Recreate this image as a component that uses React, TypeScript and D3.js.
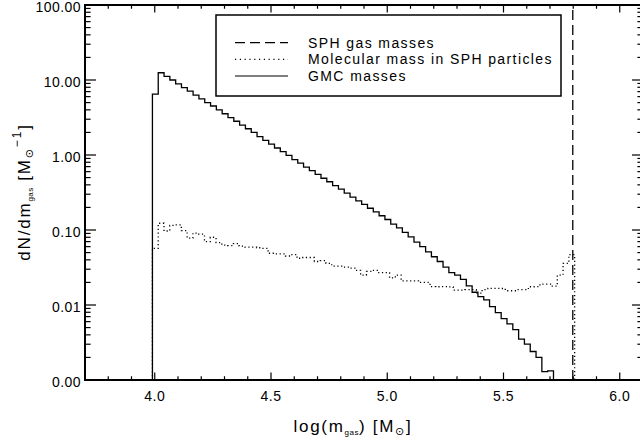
import React from 'react';
import * as d3 from 'd3';

const xDomain: [number, number] = [3.7, 6.1];
const yDomain: [number, number] = [0.001, 100];
const xMajorTicks = [4.0, 4.5, 5.0, 5.5, 6.0];
const xTickLabels = ['4.0', '4.5', '5.0', '5.5', '6.0'];
const yMajorTicks = [0.001, 0.01, 0.1, 1, 10, 100];
const yTickLabels = ['0.00', '0.01', '0.10', '1.00', '10.00', '100.00'];

// GMC mass histogram (bins of equal width from gmcStart to gmcEnd)
const gmcStart = 3.99;
const gmcEnd = 5.715;
const gmcValues = [
  6.5, 12.5, 11.2, 10.0, 8.9, 7.9, 7.1, 6.3, 5.6, 5.0,
  4.5, 4.0, 3.55, 3.15, 2.82, 2.5, 2.24, 2.0, 1.76, 1.57,
  1.40, 1.24, 1.11, 0.99, 0.87, 0.78, 0.69, 0.62, 0.55, 0.49,
  0.44, 0.39, 0.35, 0.31, 0.275, 0.245, 0.22, 0.195, 0.174, 0.155,
  0.138, 0.12, 0.107, 0.093, 0.081, 0.069, 0.060, 0.051, 0.044, 0.038,
  0.032, 0.027, 0.025, 0.022, 0.018, 0.0148, 0.0129, 0.0117, 0.0095, 0.0079,
  0.0066, 0.0056, 0.0047, 0.0035, 0.0030, 0.0024, 0.0020, 0.00129, 0.00132,
];

// Molecular mass in SPH particles
const molStart = 3.99;
const molEnd = 5.806;
const molValues = [
  0.057, 0.123, 0.097, 0.115, 0.117, 0.098, 0.078, 0.091, 0.088, 0.070,
  0.080, 0.068, 0.063, 0.062, 0.066, 0.061, 0.059, 0.059, 0.058, 0.057,
  0.049, 0.048, 0.048, 0.045, 0.047, 0.042, 0.043, 0.043, 0.038, 0.039,
  0.036, 0.033, 0.033, 0.032, 0.031, 0.029, 0.025, 0.028, 0.029, 0.027,
  0.027, 0.023, 0.025, 0.021, 0.021, 0.021, 0.020, 0.020, 0.0176, 0.0175,
  0.0176, 0.0174, 0.0158, 0.0158, 0.016, 0.016, 0.0144, 0.016, 0.0167, 0.0167,
  0.0166, 0.0155, 0.0155, 0.016, 0.016, 0.0175, 0.0176, 0.019, 0.019, 0.0178,
  0.025, 0.036, 0.047,
];

// SPH gas masses: all particles share one mass
const sphGasMass = 5.798;

const legendLabels = ['SPH gas masses', 'Molecular mass in SPH particles', 'GMC masses'];
const legendDash = ['10,5', '1.2,3.6', 'none'];

const FONT = "'Liberation Sans', Arial, 'DejaVu Sans', sans-serif";

function stepPoints(start: number, end: number, values: number[]): [number, number][] {
  const n = values.length;
  const w = (end - start) / n;
  const pts: [number, number][] = [[start, yDomain[0]]];
  values.forEach((v, i) => {
    pts.push([start + i * w, v]);
    pts.push([start + (i + 1) * w, v]);
  });
  pts.push([end, yDomain[0]]);
  return pts;
}

export default function App() {
  const W = 640, H = 444;
  const left = 85, right = 643, top = 5, bottom = 380;
  const x = d3.scaleLinear().domain(xDomain).range([left, right]);
  const y = d3.scaleLog().domain(yDomain).range([bottom, top]);
  const line = d3.line<[number, number]>().x(d => x(d[0])).y(d => y(d[1]));

  const xMinor = d3.range(38, 61).map(i => i / 10).filter(v => !xMajorTicks.some(m => Math.abs(m - v) < 1e-6));
  const yMinor: number[] = [];
  for (let k = -3; k <= 1; k++) for (let m = 2; m <= 9; m++) yMinor.push(m * Math.pow(10, k));

  const xMajLen = 7.5, xMinLen = 3.75, yMajLen = 11, yMinLen = 5.6;

  const legRows = [42.7, 59.3, 76];

  return (
    <svg width={W} height={H} style={{ position: 'absolute', left: 0, top: 0, background: '#fff' }} fontFamily={FONT}>
      <rect x={0} y={0} width={W} height={H} fill="#fff" />
      <defs>
        <clipPath id="plot">
          <rect x={left} y={top} width={right - left} height={bottom - top} />
        </clipPath>
      </defs>

      {/* data */}
      <g clipPath="url(#plot)" fill="none" stroke="#000">
        <path d={line([[sphGasMass, yDomain[0]], [sphGasMass, yDomain[1]]]) || ''} strokeWidth={1.3} strokeDasharray="10,5" />
        <path d={line(stepPoints(molStart, molEnd, molValues)) || ''} strokeWidth={1.3} strokeDasharray="1.2,2.6" />
        <path d={line(stepPoints(gmcStart, gmcEnd, gmcValues)) || ''} strokeWidth={1.3} />
      </g>

      {/* axes frame */}
      <g stroke="#000" fill="none">
        <line x1={left} x2={left} y1={top - 1} y2={bottom + 1} strokeWidth={2} />
        <line x1={right} x2={right} y1={top - 1} y2={bottom + 1} strokeWidth={2} />
        <line x1={left - 1} x2={right + 1} y1={bottom} y2={bottom} strokeWidth={2} />
        <line x1={left - 1} x2={right + 1} y1={top} y2={top} strokeWidth={2} />
        {xMajorTicks.map(t => (
          <g key={'xm' + t}>
            <line x1={x(t)} x2={x(t)} y1={bottom} y2={bottom - xMajLen} strokeWidth={1.2} />
            <line x1={x(t)} x2={x(t)} y1={top} y2={top + xMajLen} strokeWidth={1.2} />
          </g>
        ))}
        {xMinor.map(t => (
          <g key={'xn' + t}>
            <line x1={x(t)} x2={x(t)} y1={bottom} y2={bottom - xMinLen} strokeWidth={1.2} />
            <line x1={x(t)} x2={x(t)} y1={top} y2={top + xMinLen} strokeWidth={1.2} />
          </g>
        ))}
        {yMajorTicks.map(t => (
          <g key={'ym' + t}>
            <line x1={left} x2={left + yMajLen} y1={y(t)} y2={y(t)} strokeWidth={1.2} />
            <line x1={right} x2={right - yMajLen} y1={y(t)} y2={y(t)} strokeWidth={1.2} />
          </g>
        ))}
        {yMinor.map(t => (
          <g key={'yn' + t}>
            <line x1={left} x2={left + yMinLen} y1={y(t)} y2={y(t)} strokeWidth={1.2} />
            <line x1={right} x2={right - yMinLen} y1={y(t)} y2={y(t)} strokeWidth={1.2} />
          </g>
        ))}
      </g>

      {/* tick labels */}
      <g fontSize={14} fill="#000">
        {xMajorTicks.map((t, i) => (
          <text key={'xl' + t} x={x(t)} y={401} textAnchor="middle" letterSpacing={0.5}>{xTickLabels[i]}</text>
        ))}
        {yMajorTicks.map((t, i) => (
          <text key={'yl' + t} x={81} y={y(t) + 7} textAnchor="end" letterSpacing={0.45}>{yTickLabels[i]}</text>
        ))}
      </g>

      {/* axis titles */}
      <text x={353} y={432} textAnchor="middle" fontSize={17} letterSpacing={1.7} fill="#000">
        <tspan>log(m</tspan>
        <tspan fontSize={8} dy={3} letterSpacing={0.5}>gas</tspan>
        <tspan dy={-3}>)  [M</tspan>
        <tspan fontSize={11} dy={3} fontFamily="'DejaVu Sans', sans-serif">⊙</tspan>
        <tspan dy={-3}>]</tspan>
      </text>
      <text transform="translate(30,192) rotate(-90)" textAnchor="middle" fontSize={17} letterSpacing={1.8} fill="#000">
        <tspan>dN/dm</tspan>
        <tspan fontSize={8} dy={3} letterSpacing={0.5}>gas</tspan>
        <tspan dy={-3}>  [M</tspan>
        <tspan fontSize={11} dy={3} fontFamily="'DejaVu Sans', sans-serif">⊙</tspan>
        <tspan fontSize={12} dy={-12}>−1</tspan>
        <tspan dy={9}>]</tspan>
      </text>

      {/* legend */}
      <rect x={216} y={15} width={345} height={81} fill="#fff" stroke="#000" strokeWidth={1.5} />
      {legendLabels.map((lab, i) => (
        <g key={lab}>
          <line x1={235} x2={288} y1={legRows[i]} y2={legRows[i]} stroke="#000" strokeWidth={1.2}
            strokeDasharray={legendDash[i] === 'none' ? undefined : legendDash[i]} />
          <text x={308} y={legRows[i] + 5} fontSize={14} letterSpacing={1.4} fill="#000">{lab}</text>
        </g>
      ))}
    </svg>
  );
}
